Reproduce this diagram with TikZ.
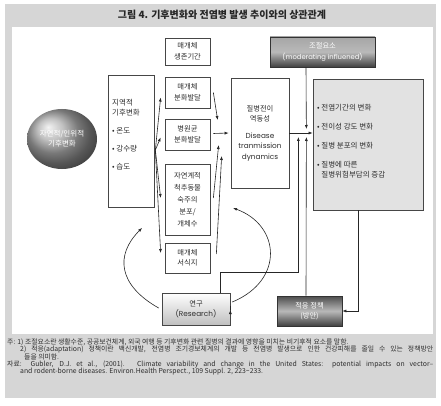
\documentclass[tikz,border=0pt]{standalone}
\usepackage{fontspec}
\setmainfont{Noto Sans CJK KR}
\newfontfamily\latf{Poppins}
\usetikzlibrary{calc,shapes.geometric,arrows.meta}
\definecolor{framegray}{RGB}{214,214,214}
\definecolor{linegray}{RGB}{70,70,70}
\definecolor{txtgray}{RGB}{45,45,45}
\definecolor{outfill}{RGB}{226,226,226}
\begin{document}
\begin{tikzpicture}[x=1pt,y=-1pt,
  box/.style={draw=linegray,line width=0.7pt,fill=white,align=center,inner sep=0pt,
    text=txtgray,font=\fontsize{7.3}{10.5}\selectfont},
  arr/.style={draw=black!85,line width=0.6pt,-{Latex[length=4pt,width=3pt]}},
  ln/.style={draw=linegray,line width=0.7pt},
  note/.style={anchor=west,inner sep=0pt,text=txtgray,font=\fontsize{6.85}{7}\selectfont}]
\useasboundingbox (0,0) rectangle (441,406);
% frame
\fill[framegray] (5,4) rectangle (436,398);
\fill[white] (12,27) rectangle (433,334);
\node[font=\bfseries\fontsize{10}{12}\selectfont,text=black!85] (title) at (222,15) {그림 4. 기후변화와 전염병 발생 추이와의 상관관계};
% sphere
\node[ellipse,minimum width=70pt,minimum height=60pt,shading=ball,ball color=gray!65,
  align=center,text=white,inner sep=0pt,font=\fontsize{7.5}{10}\selectfont] (sph) at (62,139) {자연적/인위적\\기후변화};
% regional box
\node[box,minimum width=46pt,minimum height=132pt] (reg) at (131,141) {};
\node[anchor=north west,inner sep=0pt,align=left,text=txtgray,font=\fontsize{7.5}{10}\selectfont] (regt) at (112,99)
  {지역적\\기후변화\\[8pt]• 온도\\[8pt]• 강수량\\[8pt]• 습도};
% middle column
\node[box,minimum width=45pt,minimum height=27pt] (surv) at (187.5,51.5) {매개체\\생존기간};
\node[box,minimum width=45pt,minimum height=31pt] (vdev) at (187.5,92.5) {매개체\\분화발달};
\node[box,minimum width=45pt,minimum height=31pt] (pdev) at (187.5,134.5) {병원균\\분화발달};
\node[box,minimum width=45pt,minimum height=71pt,font=\fontsize{7.3}{12}\selectfont] (host) at (187.5,199.5) {자연계적\\척추동물\\숙주의\\분포/\\개체수};
\node[box,minimum width=45pt,minimum height=30pt] (hab) at (187.5,258) {매개체\\서식지};
% disease box
\node[box,minimum width=58pt,minimum height=110pt,font=\fontsize{7.3}{10.5}\selectfont] (dis) at (260,133)
  {질병전이\\역동성\\[6pt]{\latf Disease}\\{\latf tranmission}\\{\latf dynamics}};
% moderating
\node[box,minimum width=105pt,minimum height=30pt,draw=black!80,top color=gray!70,bottom color=black!75,middle color=gray!55,
  text=white] (mod) at (322.5,52) {조절요소\\{\latf\fontsize{6.8}{9}\selectfont (moderating influened)}};
% outcome
\node[box,fill=outfill,minimum width=110pt,minimum height=131pt] (out) at (368,144.5) {};
\node[anchor=north west,inner sep=0pt,align=left,text=txtgray,font=\fontsize{7.5}{10}\selectfont] (outt) at (317,104)
  {• 전염기간의 변화\\[9pt]• 전이성 강도 변화\\[9pt]• 질병 분포의 변화\\[9pt]• 질병에 따른\\\hphantom{• }질병위험부담의 증감};
% research and policy
\node[box,minimum width=68pt,minimum height=32pt,top color=white,bottom color=gray!50] (res) at (196,309) {연구\\{\latf (Research)}};
\node[box,minimum width=65pt,minimum height=30pt,draw=black!80,top color=black!70,bottom color=black!75,middle color=gray!55,
  text=white] (pol) at (309.5,311) {적응 정책\\(방안)};
% fan from regional box
\coordinate (fan) at ($(reg.east)+(1,9)$);
\draw[arr] (fan) -- ($(vdev.west)+(-4,5)$);
\draw[arr] (fan) -- ($(pdev.west)+(-4,3)$);
\draw[arr] (fan) -- ($(host.west)+(-4,-1.5)$);
\draw[arr] (fan) -- ($(hab.west)+(-4,-5)$);
% into disease box
\draw[arr] ($(vdev.east)+(3,0)$) -- ($(dis.west)+(-13,-13)$);
\draw[arr] ($(pdev.east)+(3,-1)$) -- ($(dis.west)+(-2,0)$);
\draw[arr] ($(host.east)+(3,-1.5)$) -- ($(dis.west)+(-12,12)$);
\draw[arr] ($(hab.east)+(6,-4)$) -- ($(dis.west)+(-9,23)$);
% disease to outcome
\draw[arr] (dis.east) -- (dis.east -| out.west);
\draw[arr] ($(mod.south)+(-16.5,0)$) -- ($(dis.east)+(17,-4)$);
\draw[arr] ($(res.north)+(24,0)$) -- ++(0,-20) -| ($(dis.east)+(9,4)$);
\draw[arr] ($(pol.north)+(-3.5,0)$) -- ($(dis.east)+(17,4)$);
% research to policy
\draw[arr] ($(res.east)+(0,1)$) -- ($(res.east)+(0,1)$ -| pol.west);
% outcome to policy
\draw[arr] ($(out.south)+(-10,0)$) |- (pol.east);
% curves
\coordinate (c1) at (142,228);
\coordinate (c2) at (233,208);
\draw[arr] ($(res.west)+(-3,-1)$) .. controls (118,285) and (115,255) .. (c1);
\draw[arr] ($(res.east)+(2,-7)$) .. controls (285,280) and (280,225) .. (c2);
% notes
\node[note] (n1) at (7,342) {주: 1) 조절요소란 생활수준, 공공보건체계, 외국 여행 등 기후변화 관련 질병의 결과에 영향을 미치는 비기후적 요소를 말함.};
\node[note] (n2) at (20,349.5) {\makebox[413pt][s]{2) 적응(adaptation) 정책이란 백신개발, 전염병 조기경보체계의 개발 등 전염병 발생으로 인한 건강피해를 줄일 수 있는 정책방안}};
\node[note] (n3) at (24,356.5) {들을 의미함.};
\node[note] (n4) at (7,365) {\makebox[426pt][s]{자료: Gubler, D.J. et al., (2001). Climate variability and change in the United States: potential impacts on vector–}};
\node[note] (n5) at (20,372) {and rodent-borne diseases. Environ.Health Perspect., 109 Suppl. 2, 223\textasciitilde 233.};
\end{tikzpicture}
\end{document}
